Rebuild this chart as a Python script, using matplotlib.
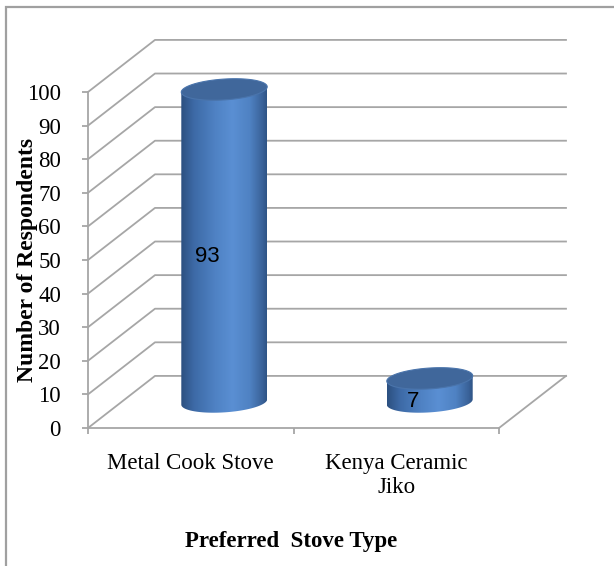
import matplotlib
matplotlib.use("Agg")
import matplotlib.pyplot as plt
import numpy as np
from matplotlib.colors import LinearSegmentedColormap
from matplotlib.patches import Polygon, Rectangle

plt.rcParams['font.family'] = ['Liberation Serif', 'DejaVu Serif']

categories = ['Metal Cook Stove', 'Kenya Ceramic\nJiko']
respondents = [93, 7]
yticks = list(range(0, 101, 10))

# fake 3d: depth offset of the back wall, in data units
DX, DY = 0.326, 15.5
A, B, S = 0.209, 3.1, 0.8   # cylinder half width, ellipse half height, tilt
grid_c = '#a6a6a6'

body_cmap = LinearSegmentedColormap.from_list('body', [
    (0.0, '#2c5080'), (0.15, '#3d6aa6'), (0.4, '#4f82c4'),
    (0.6, '#5a8fd3'), (0.8, '#4f82c3'), (0.95, '#3a6299'), (1.0, '#2f5486')])

fig = plt.figure(figsize=(6.14, 5.66), dpi=100)
fig.patches.append(Rectangle((6 / 614, -0.1), 1.2, 1.1 - 7 / 566,
                             transform=fig.transFigure, fill=False,
                             ec='#a0a0a0', lw=1.6))

ax = fig.add_axes([88 / 614, 138 / 566, 2.4 * 205.5 / 614, 118 * 3.36 / 566])
ax.set_xlim(0, 2.4)
ax.set_ylim(0, 118)
ax.patch.set_visible(False)

# walls and floor
for v in yticks:
    ax.plot([0, DX, 2 + DX], [v, v + DY, v + DY], color=grid_c, lw=1.3,
            zorder=1, clip_on=False)
ax.plot([2, 2 + DX], [0, DY], color=grid_c, lw=1.3, zorder=1, clip_on=False)


def cylinder(xc, yb, h):
    yt = yb + h
    t = np.linspace(np.pi, 2 * np.pi, 80)
    bx = xc + A * np.cos(t)
    by = yb + B * np.sin(t) + S * np.cos(t)
    pts = [(xc - A, yt - S)] + list(zip(bx, by)) + [(xc + A, yt + S)]
    body = Polygon(pts, closed=True, transform=ax.transData, fc='none',
                   ec='none')
    ax.add_patch(body)
    grad = np.linspace(0, 1, 256).reshape(1, -1)
    im = ax.imshow(grad, extent=[xc - A, xc + A, yb - B - S, yt + S],
                   aspect='auto', cmap=body_cmap, zorder=3, origin='lower')
    im.set_clip_path(body)
    t2 = np.linspace(0, 2 * np.pi, 120)
    tx = xc + A * np.cos(t2)
    ty = yt + B * np.sin(t2) + S * np.cos(t2)
    ax.add_patch(Polygon(np.column_stack([tx, ty]), closed=True, fc='#40679b',
                         ec='#4a74ab', lw=0.8, zorder=4, clip_on=False))


for i, (cat, val) in enumerate(zip(categories, respondents)):
    xc = i + 0.5 + DX / 2
    cylinder(xc, DY / 2, val)
    ax.text(xc - 0.08, val / 2 + DY / 2 - 3.3, str(val), ha='center',
            va='center', fontsize=16, family='Liberation Sans', zorder=5)

ax.set_xlim(0, 2.4)
ax.set_ylim(0, 118)

for s in ['top', 'right']:
    ax.spines[s].set_visible(False)
ax.spines['left'].set_bounds(0, 100)
ax.spines['bottom'].set_bounds(0, 2)
for s in ['left', 'bottom']:
    ax.spines[s].set_color(grid_c)
    ax.spines[s].set_linewidth(1.3)

ax.set_yticks(yticks)
ax.set_yticklabels([str(v) for v in yticks])
ax.tick_params(axis='y', length=4.5, color=grid_c, width=1.3, pad=15,
               labelsize=16.5)
ax.set_xticks([0, 1, 2])
ax.set_xticklabels(['', '', ''])
ax.set_xticks([0.5, 1.5], minor=True)
ax.set_xticklabels(categories, minor=True)
for lab in ax.get_xticklabels(minor=True):
    lab.set_multialignment('center')
ax.tick_params(axis='x', which='major', length=4.5, color=grid_c, width=1.3)
ax.tick_params(axis='x', which='minor', length=0, pad=18, labelsize=16.5)

fig.text(28 / 614, 1 - 260 / 566, 'Number of Respondents', rotation=90,
         ha='center', va='center', fontsize=17, fontweight='bold')
fig.text(291 / 614, 1 - 542 / 566, 'Preferred  Stove Type', ha='center',
         va='center', fontsize=16.5, fontweight='bold')

fig.savefig('out.png', dpi=100)
